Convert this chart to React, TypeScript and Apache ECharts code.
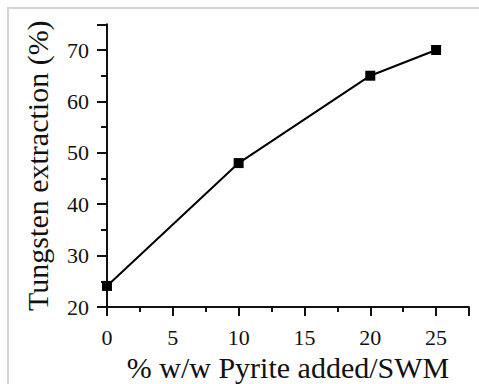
import React, { useEffect, useRef } from "react";
import * as echarts from "echarts";

const pyriteAdded = [0, 10, 20, 25];
const tungstenExtraction = [24.1, 48, 65, 70];
const xTitle = "% w/w Pyrite added/SWM";
const yTitle = "Tungsten extraction (%)";

export default function App() {
  const ref = useRef<HTMLDivElement>(null);
  useEffect(() => {
    if (!ref.current) return;
    const chart = echarts.init(ref.current, null, { renderer: "svg" });
    const font = "Liberation Serif";
    chart.setOption({
      animation: false,
      backgroundColor: "#ffffff",
      textStyle: { fontFamily: font },
      graphic: [
        {
          type: "rect",
          shape: { x: 8, y: 8, width: 490, height: 400 },
          style: { fill: "none", stroke: "#d3d3d3", lineWidth: 2 },
          silent: true,
          z: -1,
        },
      ],
      grid: { left: 107, top: 24.3, width: 362, height: 282.7, outerBoundsMode: "none", containLabel: false },
      xAxis: {
        type: "value",
        min: 0,
        max: 27.5,
        interval: 5,
        name: xTitle,
        nameLocation: "middle",
        nameGap: 43,
        nameTextStyle: { fontFamily: font, fontSize: 30, color: "#111" },
        axisLine: { show: true, onZero: false, lineStyle: { color: "#111", width: 2 } },
        axisTick: { show: true, inside: false, length: 9, lineStyle: { color: "#111", width: 2 } },
        minorTick: { show: true, splitNumber: 2, length: 5, lineStyle: { color: "#111", width: 2 } },
        splitLine: { show: false },
        axisLabel: {
          show: true,
          fontFamily: font,
          fontSize: 22,
          color: "#111",
          margin: 19,
          showMaxLabel: false,
        },
      },
      yAxis: {
        type: "value",
        min: 20,
        max: 75,
        interval: 10,
        name: yTitle,
        nameLocation: "middle",
        nameGap: 55,
        nameTextStyle: { fontFamily: font, fontSize: 30, color: "#111" },
        axisLine: { show: true, onZero: false, lineStyle: { color: "#111", width: 2 } },
        axisTick: { show: true, inside: false, length: 10, lineStyle: { color: "#111", width: 2 } },
        minorTick: { show: true, splitNumber: 2, length: 6, lineStyle: { color: "#111", width: 2 } },
        splitLine: { show: false },
        axisLabel: {
          show: true,
          fontFamily: font,
          fontSize: 22,
          color: "#111",
          margin: 18,
          showMaxLabel: false,
        },
      },
      series: [
        {
          type: "line",
          data: pyriteAdded.map((x, i) => [x, tungstenExtraction[i]]),
          symbol: "rect",
          symbolSize: 10,
          itemStyle: { color: "#000" },
          lineStyle: { color: "#000", width: 2 },
        },
      ],
    });
    return () => chart.dispose();
  }, []);
  return (
    <div
      ref={ref}
      style={{ position: "fixed", left: 0, top: 0, width: 479, height: 384 }}
    />
  );
}
